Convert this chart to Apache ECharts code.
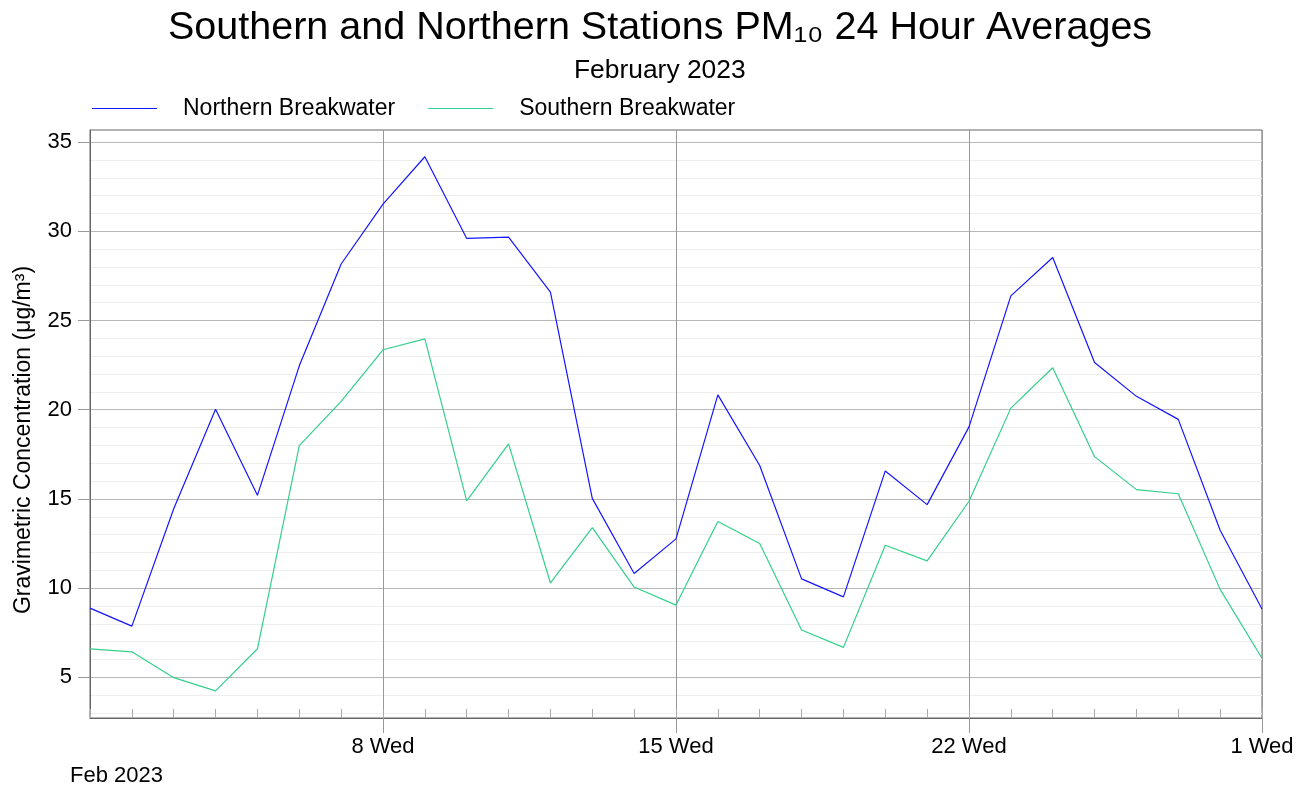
<!DOCTYPE html>
<html>
<head>
<meta charset="utf-8">
<script src="https://cdn.jsdelivr.net/npm/echarts@6/dist/echarts.min.js"></script>
<style>html,body{margin:0;padding:0;background:#fff;}#c{width:1310px;height:790px;}</style>
</head>
<body>
<div id="c"></div>
<script>
const dates = ['2023-02-01','2023-02-02','2023-02-03','2023-02-04','2023-02-05','2023-02-06','2023-02-07',
  '2023-02-08','2023-02-09','2023-02-10','2023-02-11','2023-02-12','2023-02-13','2023-02-14',
  '2023-02-15','2023-02-16','2023-02-17','2023-02-18','2023-02-19','2023-02-20','2023-02-21',
  '2023-02-22','2023-02-23','2023-02-24','2023-02-25','2023-02-26','2023-02-27','2023-02-28','2023-03-01'];
const northern = [8.88, 7.87, 14.45, 20.03, 15.2, 22.46, 28.17, 31.52, 34.18, 29.6, 29.67, 26.59, 15.03, 10.82,
  12.76, 20.83, 16.87, 10.52, 9.51, 16.57, 14.68, 19.04, 26.38, 28.53, 22.65, 20.75, 19.46, 13.24, 8.83];
const southern = [6.6, 6.43, 4.98, 4.24, 6.6, 17.99, 20.47, 23.36, 23.97, 14.89, 18.09, 10.29, 13.39, 10.06,
  9.05, 13.73, 12.5, 7.65, 6.68, 12.4, 11.53, 14.87, 20.09, 22.35, 17.37, 15.52, 15.29, 9.93, 6.07];
const yTicks = [5, 10, 15, 20, 25, 30, 35];
const yMin = 2.72, yMax = 35.68;
const weekdayNames = ['Sun','Mon','Tue','Wed','Thu','Fri','Sat'];
const firstPeriodLabel = 'Feb 2023';

const FONT = 'Liberation Sans';
function dayLabel(d) {
  const dt = new Date(d + 'T00:00:00Z');
  return dt.getUTCDate() + ' ' + weekdayNames[dt.getUTCDay()];
}
const isMajor = (idx) => idx % 7 === 0 && idx > 0;

const chart = echarts.init(document.getElementById('c'), null, {renderer: 'canvas'});
chart.setOption({
  animation: false,
  backgroundColor: '#fff',
  textStyle: {fontFamily: FONT},
  title: [
    {text: 'Southern and Northern Stations PM₁₀ 24 Hour Averages', left: 168, top: 8, padding: 0,
     textStyle: {fontFamily: FONT, fontSize: 39.5, fontWeight: 'normal', color: '#000'}},
    {text: 'February 2023', left: 574, top: 58, padding: 0,
     textStyle: {fontFamily: FONT, fontSize: 26.4, fontWeight: 'normal', color: '#000'}}
  ],
  legend: {
    left: 92, top: 97, padding: 0, itemWidth: 65, itemHeight: 22, itemGap: 33,
    icon: 'path://M0,10 L65,10 L65,11 L0,11 Z',
    textStyle: {fontFamily: FONT, fontSize: 23, color: '#000', padding: [0, 0, 0, 21]},
    data: ['Northern Breakwater', 'Southern Breakwater']
  },
  grid: {left: 90, right: 48, top: 130, bottom: 72, show: true, borderColor: '#666', borderWidth: 1,
         containLabel: false, outerBoundsMode: 'none'},
  xAxis: [
    {
      type: 'category', data: dates, boundaryGap: false, position: 'bottom',
      axisLine: {show: true, lineStyle: {color: '#666', width: 1}},
      axisTick: {show: true, inside: true, length: 9, interval: 0, lineStyle: {color: '#aaa'}},
      axisLabel: {show: false},
      splitLine: {show: true, interval: (idx) => isMajor(idx), lineStyle: {color: '#999', width: 1}}
    },
    {
      type: 'category', data: dates, boundaryGap: false, position: 'bottom',
      axisLine: {show: false},
      axisTick: {show: true, inside: false, length: 15, interval: (idx) => isMajor(idx), lineStyle: {color: '#999'}},
      axisLabel: {show: true, interval: (idx) => isMajor(idx), formatter: (v) => dayLabel(v), margin: 18,
                  fontFamily: FONT, fontSize: 22, color: '#000'},
      splitLine: {show: false}
    }
  ],
  yAxis: {
    type: 'value', min: yMin, max: yMax,
    name: 'Gravimetric Concentration (μg/m³)', nameLocation: 'middle', nameGap: 55,
    nameTextStyle: {fontFamily: FONT, fontSize: 23, color: '#000', padding: [0, 32, 0, 0]},
    axisLine: {show: true, lineStyle: {color: '#666'}},
    axisTick: {show: true, length: 12, customValues: yTicks, lineStyle: {color: '#999'}},
    axisLabel: {customValues: yTicks, margin: 18, fontFamily: FONT, fontSize: 22, color: '#000'},
    splitLine: {show: true, lineStyle: {color: '#b8b8b8'}},
    minorTick: {show: false, splitNumber: 5},
    minorSplitLine: {show: true, lineStyle: {color: '#eeeeee'}}
  },
  series: [
    {name: 'Northern Breakwater', type: 'line', data: northern, xAxisIndex: 0, symbol: 'none',
     lineStyle: {color: '#1515ff', width: 1.2}, itemStyle: {color: '#1515ff'}},
    {name: 'Southern Breakwater', type: 'line', data: southern, xAxisIndex: 0, symbol: 'none',
     lineStyle: {color: '#33d08c', width: 1.2}, itemStyle: {color: '#33d08c'}}
  ],
  graphic: [
    {type: 'text', left: 70, top: 765, style: {text: firstPeriodLabel, fontFamily: FONT, fontSize: 22, fill: '#000'}}
  ]
});
</script>
</body>
</html>
